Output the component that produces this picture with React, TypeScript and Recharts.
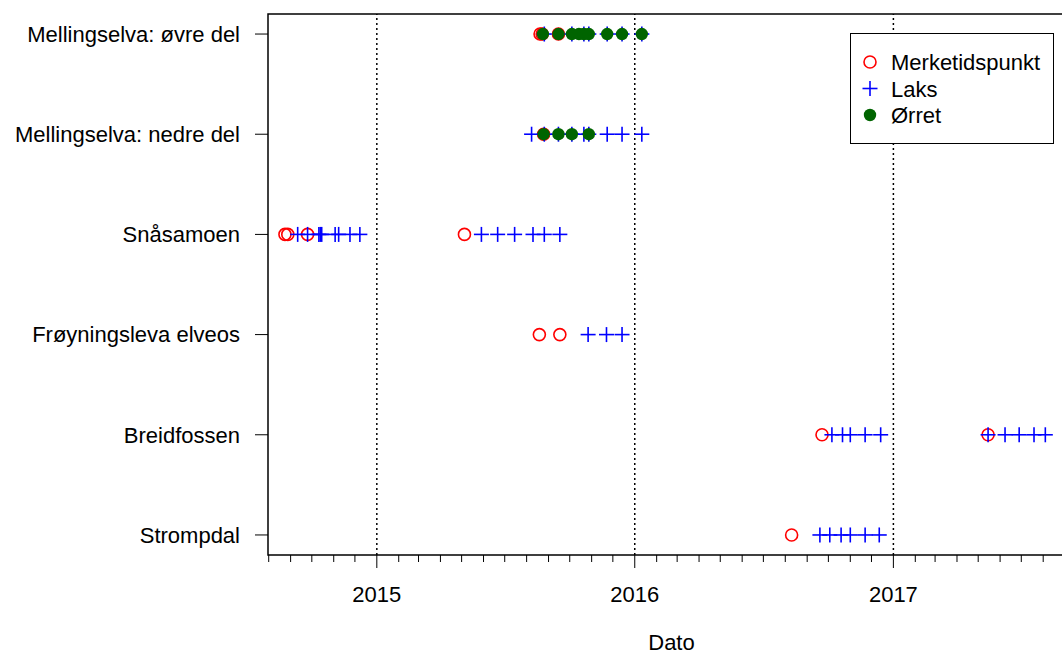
import React from 'react';
import {
  ScatterChart, Scatter, XAxis, YAxis, ReferenceLine, ReferenceArea, Legend,
} from 'recharts';

// rows, bottom to top (y = 1..6)
const stations = [
  'Strompdal',
  'Breidfossen',
  'Frøyningsleva elveos',
  'Snåsamoen',
  'Mellingselva: nedre del',
  'Mellingselva: øvre del',
];

const yearTicks = ['2015-01-01', '2016-01-01', '2017-01-01'];
const xStart = '2014-07-31';
const xEnd = '2017-09-15';

// [row, date]
const merketidspunkt: [number, string][] = [
  [6, '2015-08-20'], [6, '2015-08-23'], [6, '2015-09-15'],
  [5, '2015-08-25'],
  [4, '2014-08-24'], [4, '2014-08-28'], [4, '2014-09-25'], [4, '2015-05-05'],
  [3, '2015-08-19'], [3, '2015-09-17'],
  [2, '2016-09-22'], [2, '2017-05-15'],
  [1, '2016-08-10'],
];

const laks: [number, string][] = [
  [6, '2015-08-26'], [6, '2015-10-04'], [6, '2015-10-21'], [6, '2015-10-28'],
  [6, '2015-11-23'], [6, '2015-12-14'], [6, '2016-01-11'],
  [5, '2015-08-08'], [5, '2015-08-26'], [5, '2015-09-15'], [5, '2015-10-04'],
  [5, '2015-10-21'], [5, '2015-10-28'], [5, '2015-11-23'], [5, '2015-12-14'], [5, '2016-01-11'],
  [4, '2014-09-11'], [4, '2014-09-25'], [4, '2014-10-11'], [4, '2014-10-13'], [4, '2014-10-15'],
  [4, '2014-11-03'], [4, '2014-11-08'], [4, '2014-11-24'], [4, '2014-12-08'],
  [4, '2015-05-29'], [4, '2015-06-21'], [4, '2015-07-15'], [4, '2015-08-10'],
  [4, '2015-08-26'], [4, '2015-09-17'],
  [3, '2015-10-27'], [3, '2015-11-22'], [3, '2015-12-14'],
  [2, '2016-10-06'], [2, '2016-10-21'], [2, '2016-11-01'], [2, '2016-11-22'], [2, '2016-12-14'],
  [2, '2017-05-15'], [2, '2017-06-08'], [2, '2017-06-28'], [2, '2017-07-19'], [2, '2017-08-04'],
  [1, '2016-09-19'], [1, '2016-10-03'], [1, '2016-10-19'], [1, '2016-11-01'],
  [1, '2016-11-22'], [1, '2016-12-12'],
];

const orret: [number, string][] = [
  [6, '2015-08-24'], [6, '2015-09-15'], [6, '2015-10-04'], [6, '2015-10-14'],
  [6, '2015-10-21'], [6, '2015-10-28'], [6, '2015-11-23'], [6, '2015-12-14'], [6, '2016-01-11'],
  [5, '2015-08-25'], [5, '2015-09-15'], [5, '2015-10-04'], [5, '2015-10-28'],
];

const ts = (d: string) => Date.parse(d + 'T00:00:00Z');
const toPoints = (arr: [number, string][]) => arr.map(([y, d]) => ({ x: ts(d), y }));

// monthly minor ticks across the x range
const monthTicks: number[] = [];
for (let d = new Date(Date.UTC(2014, 7, 1)); d.getTime() <= ts(xEnd); d.setUTCMonth(d.getUTCMonth() + 1)) {
  monthTicks.push(d.getTime());
}

const FONT = '"Liberation Sans", Arial, sans-serif';
const FS = 22;

const XTick = (props: any) => {
  const { x, y, payload } = props;
  const d = new Date(payload.value);
  const isYear = d.getUTCMonth() === 0;
  return (
    <g>
      <line x1={x} x2={x} y1={y} y2={y + (isYear ? 13 : 7)} stroke="#000" strokeWidth={1} />
      {isYear && (
        <text x={x} y={y + 47} textAnchor="middle" fontSize={FS} fill="#000" fontFamily={FONT}>
          {d.getUTCFullYear()}
        </text>
      )}
    </g>
  );
};

const Circle = (p: any) => (
  <circle cx={p.cx} cy={p.cy} r={6} fill="none" stroke="#ff0000" strokeWidth={1.6} />
);
const Cross = (p: any) => (
  <g stroke="#0000ff" strokeWidth={1.6}>
    <line x1={p.cx - 7.5} x2={p.cx + 7.5} y1={p.cy} y2={p.cy} />
    <line x1={p.cx} x2={p.cx} y1={p.cy - 7.5} y2={p.cy + 7.5} />
  </g>
);
const Dot = (p: any) => <circle cx={p.cx} cy={p.cy} r={6.2} fill="#006400" />;

const legendItems = [
  { name: 'Merketidspunkt', kind: 'circle' },
  { name: 'Laks', kind: 'cross' },
  { name: 'Ørret', kind: 'dot' },
];

const LegendBox = () => (
  <svg width={204} height={111} style={{ display: 'block' }}>
    <rect x={0.5} y={0.5} width={203} height={110} fill="#fff" stroke="#000" />
    {legendItems.map((it, i) => {
      const cy = 29 + i * 26.5;
      return (
        <g key={it.name}>
          {it.kind === 'circle' && <Circle cx={20} cy={cy} />}
          {it.kind === 'cross' && <Cross cx={20} cy={cy} />}
          {it.kind === 'dot' && <Dot cx={20} cy={cy} />}
          <text x={41} y={cy + 8} fontSize={FS} fill="#000" fontFamily={FONT}>{it.name}</text>
        </g>
      );
    })}
  </svg>
);

export default function App() {
  return (
    <div style={{ position: 'absolute', left: 0, top: 0, width: 1062, height: 657, overflow: 'hidden', background: '#fff', fontFamily: FONT }}>
      <ScatterChart width={1090} height={657} margin={{ top: 14, right: 15, bottom: 0, left: 0 }}>
        <XAxis
          dataKey="x"
          type="number"
          domain={[ts(xStart), ts(xEnd)]}
          ticks={monthTicks}
          interval={0}
          tick={<XTick />}
          tickLine={false}
          tickSize={0}
          tickMargin={0}
          axisLine={false}
          height={102}
          allowDataOverflow
          label={{ value: 'Dato', position: 'insideBottom', offset: 7, fontSize: FS, fill: '#000', fontFamily: FONT }}
        />
        <YAxis
          dataKey="y"
          type="number"
          domain={[0.8, 6.2]}
          ticks={[1, 2, 3, 4, 5, 6]}
          interval={0}
          tickFormatter={(v: number) => stations[v - 1]}
          tick={{ fontSize: FS, fill: '#000', fontFamily: FONT }}
          tickLine={{ stroke: '#000' }}
          tickSize={13}
          tickMargin={15}
          axisLine={false}
          width={268}
          allowDataOverflow
        />
        <ReferenceArea x1={ts(xStart)} x2={ts(xEnd)} y1={0.8} y2={6.2} fill="none" stroke="#000" strokeWidth={1.5} fillOpacity={0} />
        {yearTicks.map(d => (
          <ReferenceLine key={d} x={ts(d)} stroke="#000" strokeDasharray="2 3" strokeWidth={1.5} />
        ))}
        <Scatter name="Merketidspunkt" data={toPoints(merketidspunkt)} shape={<Circle />} isAnimationActive={false} />
        <Scatter name="Laks" data={toPoints(laks)} shape={<Cross />} isAnimationActive={false} />
        <Scatter name="Ørret" data={toPoints(orret)} shape={<Dot />} isAnimationActive={false} />
        <Legend
          layout="vertical"
          align="center"
          verticalAlign="middle"
          content={() => <LegendBox />}
          wrapperStyle={{ position: 'absolute', left: 850, top: 33, width: 204, height: 111 }}
        />
      </ScatterChart>
    </div>
  );
}
